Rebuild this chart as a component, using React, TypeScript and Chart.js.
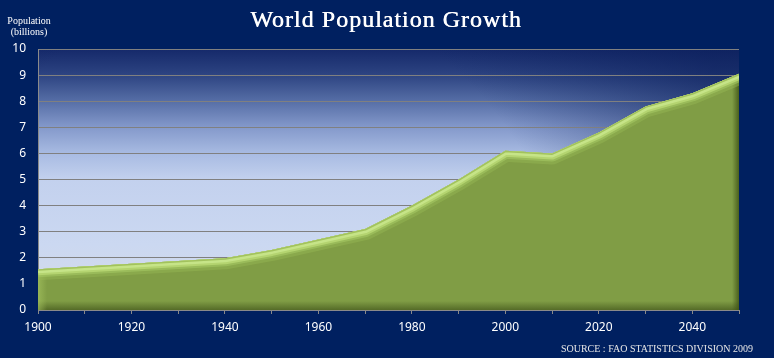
import React, { useEffect, useRef } from 'react';
import { Chart, registerables } from 'chart.js';

Chart.register(...registerables);

const years = ['1900', '1910', '1920', '1930', '1940', '1950', '1960', '1970', '1980', '1990', '2000', '2010', '2020', '2030', '2040', '2050'];
const population = [1.56, 1.67, 1.77, 1.88, 1.98, 2.3, 2.7, 3.1, 4.0, 5.0, 6.1, 6.0, 6.8, 7.8, 8.3, 9.05];
const yMin = 0;
const yMax = 10;
const yStep = 1;
const titleText = 'World Population Growth';
const yTitleLines = ['Population', '(billions)'];
const sourceText = 'SOURCE : FAO STATISTICS DIVISION 2009';

const NAVY = '#002060';

const backgroundPlugin = {
  id: 'bgPlugin',
  beforeDraw(chart: any) {
    const { ctx, chartArea, width, height } = chart;
    const { left, top, right, bottom } = chartArea;
    ctx.save();
    ctx.fillStyle = NAVY;
    ctx.fillRect(0, 0, width, height);
    const h = bottom - top;
    const g = ctx.createLinearGradient(0, top, 0, bottom);
    g.addColorStop(0, '#15296a');
    g.addColorStop(0.1, '#2d4482');
    g.addColorStop(0.2, '#566ea6');
    g.addColorStop(0.3, '#8499cb');
    g.addColorStop(0.4, '#a8bbe2');
    g.addColorStop(0.5, '#c3d1ee');
    g.addColorStop(0.75, '#cbd8f1');
    g.addColorStop(0.9, '#d2daeb');
    g.addColorStop(1, '#c4c9d6');
    ctx.fillStyle = g;
    ctx.fillRect(left, top, right - left, h);
    const cx = left + (right - left) * 0.3;
    const r = (right - left) * 0.75;
    const rg = ctx.createRadialGradient(cx, bottom, 0, cx, bottom, r);
    rg.addColorStop(0, 'rgba(10,30,90,0)');
    rg.addColorStop(0.6, 'rgba(10,30,90,0)');
    rg.addColorStop(1, 'rgba(10,30,90,0.6)');
    ctx.fillStyle = rg;
    ctx.fillRect(left, top, right - left, h);
    ctx.restore();
  },
};

const bevelPlugin = {
  id: 'bevelPlugin',
  afterDatasetsDraw(chart: any) {
    const meta = chart.getDatasetMeta(0);
    const pts = meta.data;
    if (!pts || !pts.length) return;
    const { ctx, chartArea } = chart;
    const { bottom } = chartArea;
    const first = pts[0];
    const last = pts[pts.length - 1];
    ctx.save();
    ctx.beginPath();
    ctx.moveTo(first.x, first.y);
    for (let i = 1; i < pts.length; i++) ctx.lineTo(pts[i].x, pts[i].y);
    ctx.lineTo(last.x, bottom);
    ctx.lineTo(first.x, bottom);
    ctx.closePath();
    ctx.clip();

    const bg = ctx.createLinearGradient(0, bottom - 9, 0, bottom);
    bg.addColorStop(0, 'rgba(70,90,30,0)');
    bg.addColorStop(1, 'rgba(70,90,30,0.75)');
    ctx.fillStyle = bg;
    ctx.fillRect(first.x, bottom - 9, last.x - first.x, 9);
    const rg = ctx.createLinearGradient(last.x - 7, 0, last.x, 0);
    rg.addColorStop(0, 'rgba(60,80,20,0)');
    rg.addColorStop(1, 'rgba(60,80,20,0.8)');
    ctx.fillStyle = rg;
    ctx.fillRect(last.x - 7, 0, 7, bottom);
    const lg = ctx.createLinearGradient(first.x, 0, first.x + 9, 0);
    lg.addColorStop(0, 'rgba(170,200,100,0.55)');
    lg.addColorStop(1, 'rgba(170,200,100,0)');
    ctx.fillStyle = lg;
    ctx.fillRect(first.x, 0, 9, bottom);

    const strokeTop = (w: number, c: string) => {
      ctx.beginPath();
      ctx.moveTo(first.x, first.y);
      for (let i = 1; i < pts.length; i++) ctx.lineTo(pts[i].x, pts[i].y);
      ctx.lineWidth = w;
      ctx.strokeStyle = c;
      ctx.lineJoin = 'round';
      ctx.stroke();
    };
    strokeTop(22, 'rgba(150,185,85,0.45)');
    strokeTop(16, 'rgba(165,200,100,0.6)');
    strokeTop(12, '#b4d470');
    strokeTop(8, '#c6e488');
    strokeTop(3, '#a2c25e');
    ctx.restore();
  },
};

const textPlugin = {
  id: 'textPlugin',
  afterDraw(chart: any) {
    const { ctx } = chart;
    ctx.save();
    ctx.fillStyle = '#ffffff';
    ctx.textAlign = 'center';
    ctx.textBaseline = 'alphabetic';
    ctx.font = '24px "Liberation Serif"';
    try { (ctx as any).letterSpacing = '1px'; } catch (e) {}
    ctx.fillText(titleText, 386, 27);
    ctx.fillText(titleText, 386.5, 27);
    try { (ctx as any).letterSpacing = '0px'; } catch (e) {}
    ctx.font = '10px "Liberation Serif"';
    ctx.fillText(yTitleLines[0], 29, 24);
    ctx.fillText(yTitleLines[1], 29, 35);
    ctx.textAlign = 'right';
    ctx.fillStyle = '#e6e6e6';
    ctx.font = '10px "Liberation Serif"';
    ctx.fillText(sourceText, 753, 352);
    ctx.restore();
  },
};

export default function App() {
  const ref = useRef<HTMLCanvasElement | null>(null);
  useEffect(() => {
    if (!ref.current) return;
    document.body.style.margin = '0';
    const chart = new Chart(ref.current, {
      type: 'line',
      data: {
        labels: years,
        datasets: [
          {
            data: population,
            fill: 'origin',
            backgroundColor: '#809d45',
            borderWidth: 0,
            borderColor: 'rgba(0,0,0,0)',
            pointRadius: 0,
            tension: 0,
          },
        ],
      },
      options: {
        animation: false,
        responsive: true,
        maintainAspectRatio: false,
        layout: { padding: { top: 49, right: 35, left: 0, bottom: 0 } },
        plugins: {
          legend: { display: false },
          tooltip: { enabled: false },
          title: { display: false },
        },
        scales: {
          x: {
            type: 'category',
            offset: false,
            afterFit: (s: any) => { s.height = 48; },
            grid: {
              drawOnChartArea: false,
              drawTicks: true,
              tickLength: 4,
              color: '#8a8a8a',
              tickColor: '#8a8a8a',
            },
            border: { display: true, color: '#8a8a8a', width: 1 },
            ticks: {
              autoSkip: false,
              maxRotation: 0,
              minRotation: 0,
              padding: 6,
              color: '#ffffff',
              font: { family: '"Noto Sans"', size: 12 },
              callback: (_v: any, i: number) => (i % 2 === 0 && i < years.length - 1 ? years[i] : ''),
            },
          },
          y: {
            min: yMin,
            max: yMax,
            afterFit: (s: any) => { s.width = 38; },
            grid: { color: '#808080', drawTicks: false, lineWidth: 1 },
            border: { display: true, color: '#8a8a8a', width: 1 },
            ticks: {
              stepSize: yStep,
              padding: 12,
              color: '#ffffff',
              font: { family: '"Noto Sans"', size: 12 },
            },
          },
        },
      },
      plugins: [backgroundPlugin, bevelPlugin, textPlugin],
    });
    return () => chart.destroy();
  }, []);
  return (
    <div style={{ position: 'absolute', left: 0, top: 0, width: 774, height: 358 }}>
      <canvas ref={ref} />
    </div>
  );
}
